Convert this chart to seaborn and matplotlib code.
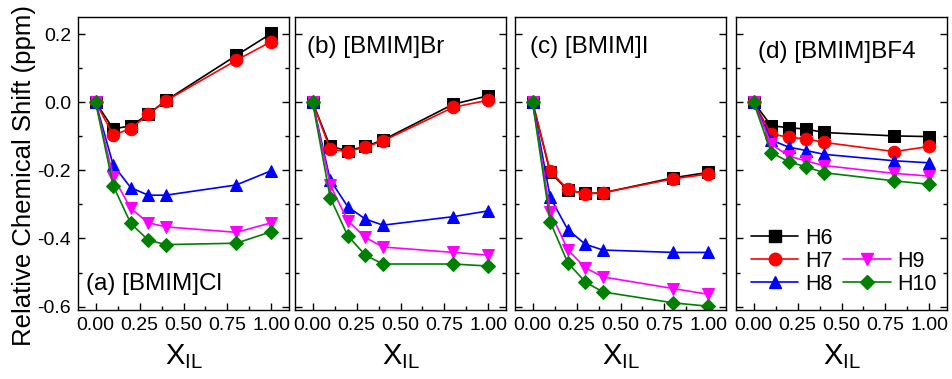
import numpy as np
import pandas as pd
import matplotlib
matplotlib.use("Agg")
import matplotlib.pyplot as plt
import seaborn as sns
from matplotlib.ticker import MultipleLocator
from matplotlib.lines import Line2D

# mole fraction of ionic liquid
x_il = [0.0, 0.1, 0.2, 0.3, 0.4, 0.8, 1.0]
protons = ["H6", "H7", "H8", "H9", "H10"]

# relative chemical shift (ppm), one list per proton, per panel
cl_h6 = [0, -0.078, -0.070, -0.035, 0.005, 0.137, 0.202]
cl_h7 = [0, -0.096, -0.078, -0.035, 0.004, 0.123, 0.178]
cl_h8 = [0, -0.184, -0.251, -0.273, -0.273, -0.243, -0.201]
cl_h9 = [0, -0.219, -0.312, -0.354, -0.366, -0.382, -0.354]
cl_h10 = [0, -0.245, -0.356, -0.405, -0.418, -0.414, -0.380]

br_h6 = [0, -0.130, -0.142, -0.130, -0.111, -0.006, 0.019]
br_h7 = [0, -0.138, -0.145, -0.132, -0.114, -0.015, 0.006]
br_h8 = [0, -0.228, -0.307, -0.343, -0.361, -0.336, -0.319]
br_h9 = [0, -0.243, -0.348, -0.397, -0.425, -0.441, -0.449]
br_h10 = [0, -0.280, -0.392, -0.449, -0.475, -0.475, -0.481]

i_h6 = [0, -0.206, -0.258, -0.268, -0.266, -0.222, -0.206]
i_h7 = [0, -0.202, -0.256, -0.270, -0.266, -0.225, -0.211]
i_h8 = [0, -0.279, -0.374, -0.417, -0.434, -0.441, -0.441]
i_h9 = [0, -0.322, -0.433, -0.486, -0.513, -0.547, -0.564]
i_h10 = [0, -0.351, -0.471, -0.528, -0.557, -0.589, -0.599]

bf4_h6 = [0, -0.069, -0.075, -0.079, -0.089, -0.099, -0.101]
bf4_h7 = [0, -0.093, -0.103, -0.108, -0.118, -0.145, -0.130]
bf4_h8 = [0, -0.111, -0.132, -0.142, -0.153, -0.172, -0.178]
bf4_h9 = [0, -0.123, -0.158, -0.173, -0.186, -0.209, -0.217]
bf4_h10 = [0, -0.148, -0.175, -0.190, -0.207, -0.231, -0.241]

panels = [
    ("(a) [BMIM]Cl", [cl_h6, cl_h7, cl_h8, cl_h9, cl_h10]),
    ("(b) [BMIM]Br", [br_h6, br_h7, br_h8, br_h9, br_h10]),
    ("(c) [BMIM]I", [i_h6, i_h7, i_h8, i_h9, i_h10]),
    ("(d) [BMIM]BF4", [bf4_h6, bf4_h7, bf4_h8, bf4_h9, bf4_h10]),
]

colors = ["black", "red", "blue", "magenta", "green"]
markers = ["s", "o", "^", "v", "D"]
msizes = [8, 9, 9, 9, 7.5]

sns.set_theme(style="ticks")
plt.rcParams["font.family"] = ["Liberation Sans", "DejaVu Sans"]
plt.rcParams["mathtext.fontset"] = "custom"
plt.rcParams["mathtext.rm"] = "Liberation Sans"
plt.rcParams["mathtext.it"] = "Liberation Sans"
for key in ["text.color", "axes.labelcolor", "xtick.color", "ytick.color"]:
    plt.rcParams[key] = "black"

fig = plt.figure(figsize=(9.52, 3.79), dpi=100)
lefts = [78, 295, 515, 736]
label_pos = [(0.036, 0.09), (0.055, 0.898), (0.069, 0.898), (0.102, 0.88)]

for k, (title, series) in enumerate(panels):
    ax = fig.add_axes([lefts[k] / 952, 1 - 310 / 379, 211 / 952, 293 / 379])
    for name, vals, c, m, ms in zip(protons, series, colors, markers, msizes):
        df = pd.DataFrame({"x": x_il, "y": vals})
        sns.lineplot(data=df, x="x", y="y", ax=ax, color=c, marker=m,
                     markersize=ms, markeredgecolor=c, linewidth=1.2,
                     label=name, legend=False)
    ax.set_xlim(-0.1, 1.1)
    ax.set_ylim(-0.61, 0.25)
    ax.xaxis.set_major_locator(MultipleLocator(0.25))
    ax.xaxis.set_minor_locator(MultipleLocator(0.125))
    ax.yaxis.set_major_locator(MultipleLocator(0.2))
    ax.yaxis.set_minor_locator(MultipleLocator(0.1))
    ax.xaxis.set_major_formatter(plt.FormatStrFormatter("%.2f"))
    ax.yaxis.set_major_formatter(plt.FormatStrFormatter("%.1f"))
    ax.tick_params(which="both", direction="in", right=True, labelsize=14,
                   color="black", width=1, pad=5)
    ax.tick_params(which="major", length=5)
    ax.tick_params(which="minor", length=3)
    for s in ax.spines.values():
        s.set_color("black")
        s.set_linewidth(1.0)
    if k > 0:
        ax.set_yticklabels([])
        ax.set_ylabel("")
    else:
        ax.set_ylabel("Relative Chemical Shift (ppm)", fontsize=18.5, va="center")
        ax.yaxis.set_label_coords(-0.256, 0.46)
    ax.set_xlabel(r"X$_{\mathrm{IL}}$", fontsize=21, labelpad=6)
    ax.text(label_pos[k][0], label_pos[k][1], title, transform=ax.transAxes,
            fontsize=17.5, va="center", ha="left")
    if k == 3:
        hs = [Line2D([], [], color=c, marker=m, markersize=ms, lw=1.2)
              for c, m, ms in zip(colors, markers, msizes)]
        blank = Line2D([], [], color="none")
        handles = hs[:3] + [blank] + hs[3:]
        labels = protons[:3] + [""] + protons[3:]
        ax.legend(handles, labels, ncol=2, frameon=False, fontsize=15.5,
                  loc="lower left", bbox_to_anchor=(0.0, 0.0),
                  handlelength=2.2, handletextpad=0.3, columnspacing=0.5,
                  labelspacing=0.1, borderaxespad=0.3)

fig.savefig("out.png", dpi=100)
